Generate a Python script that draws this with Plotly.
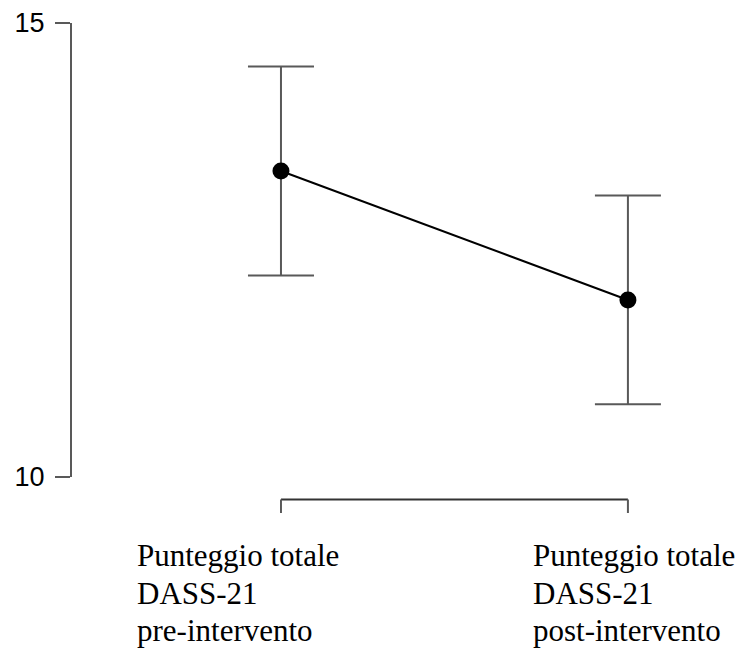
import plotly.graph_objects as go

label_lines = [["Punteggio totale", "DASS-21", "pre-intervento"],
               ["Punteggio totale", "DASS-21", "post-intervento"]]
means = [13.37, 11.95]
ci_err = [1.15, 1.15]
y_ticks = [10, 15]

xpos = list(range(len(means)))
GRAY = "#595959"

fig = go.Figure()
fig.add_trace(go.Scatter(
    x=xpos, y=means, mode="lines+markers",
    line=dict(color="black", width=2),
    marker=dict(color="black", size=17),
    error_y=dict(type="data", array=ci_err, visible=True,
                 color=GRAY, thickness=2, width=33),
    cliponaxis=False, showlegend=False, hoverinfo="skip",
))

# x-axis bracket between first and last category (R-style axis)
fig.add_shape(type="line", xref="x", yref="paper", ysizemode="pixel", yanchor=0,
              x0=xpos[0], x1=xpos[-1], y0=-22.5, y1=-22.5,
              line=dict(color="#333333", width=2))
for xv in xpos:
    fig.add_shape(type="line", xref="x", yref="paper", ysizemode="pixel", yanchor=0,
                  x0=xv, x1=xv, y0=-22.5, y1=-36, line=dict(color=GRAY, width=2))

# category labels
label_shift = [-146, -97]
for xi, lines, sh in zip(xpos, label_lines, label_shift):
    for li, txt in enumerate(lines):
        fig.add_annotation(x=xi, xref="x", y=0, yref="paper",
                           xanchor="left", yanchor="top",
                           xshift=sh, yshift=-59 - 37.5 * li,
                           text=txt, showarrow=False,
                           font=dict(family="Liberation Serif", size=31, color="black"))

fig.update_xaxes(range=[-0.6023, 1.3], showline=False, showgrid=False,
                 zeroline=False, showticklabels=False, ticks="")
fig.update_yaxes(range=[10, 15], tickvals=y_ticks, ticktext=[str(v) for v in y_ticks],
                 showline=True, linecolor=GRAY, linewidth=2,
                 ticks="outside", ticklen=15, tickwidth=2, tickcolor=GRAY,
                 ticklabelstandoff=5,
                 showgrid=False, zeroline=False,
                 tickfont=dict(family="Liberation Sans", size=27, color="black"))

fig.update_layout(width=737, height=648, plot_bgcolor="white", paper_bgcolor="white",
                  margin=dict(l=72, r=5, t=23, b=171))

fig.write_html("out.html", config={"displayModeBar": False},
               post_script="document.body.style.margin='0';")
